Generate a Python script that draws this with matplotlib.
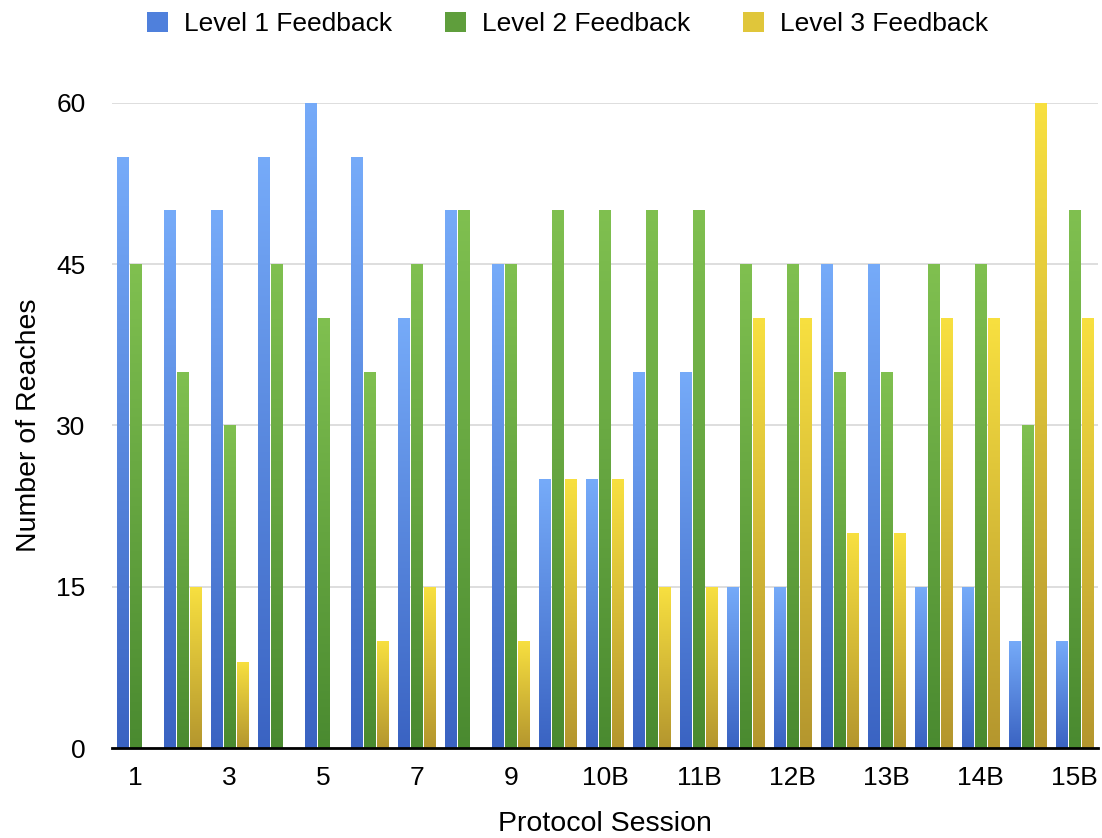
import numpy as np
import matplotlib.pyplot as plt
from matplotlib.colors import LinearSegmentedColormap

plt.rcParams['font.family'] = ['Liberation Sans', 'DejaVu Sans']

sessions = ['1', '2', '3', '4', '5', '6', '7', '8', '9',
            '10A', '10B', '11A', '11B', '12A', '12B',
            '13A', '13B', '14A', '14B', '15A', '15B']
level1 = [55, 50, 50, 55, 60, 55, 40, 50, 45, 25, 25, 35, 35, 15, 15, 45, 45, 15, 15, 10, 10]
level2 = [45, 35, 30, 45, 40, 35, 45, 50, 45, 50, 50, 50, 50, 45, 45, 35, 35, 45, 45, 30, 50]
level3 = [0, 15, 8, 0, 0, 10, 15, 0, 10, 25, 25, 15, 15, 40, 40, 20, 20, 40, 40, 60, 40]

series = [
    ('Level 1 Feedback', level1, '#3a63c2', '#76abf9', '#4f80dc'),
    ('Level 2 Feedback', level2, '#4a8a30', '#80c050', '#5f9e3c'),
    ('Level 3 Feedback', level3, '#b4962e', '#f8e040', '#e0c63a'),
]

fig = plt.figure(figsize=(11.02, 8.38), dpi=100)
ax = fig.add_axes([112 / 1102, 90 / 838, 986 / 1102, 645 / 838])

x = np.arange(len(sessions))
width = 0.245
offsets = [-0.277, 0, 0.277]
grad = np.linspace(1, 0, 256).reshape(-1, 1)

handles = []
for (name, vals, c_bot, c_top, c_mid), off in zip(series, offsets):
    cmap = LinearSegmentedColormap.from_list(name, [c_bot, c_top])
    bars = ax.bar(x + off, vals, width, color=c_mid, edgecolor='none', zorder=2)
    handles.append(plt.Rectangle((0, 0), 1, 1, facecolor=c_mid, edgecolor='none'))
    for b in bars:
        h = b.get_height()
        if h <= 0:
            continue
        x0 = b.get_x()
        im = ax.imshow(grad, cmap=cmap, aspect='auto', zorder=3,
                       extent=[x0, x0 + b.get_width(), 0, h], interpolation='bicubic')
        im.set_clip_path(b)

ax.set_xlim(-0.5, len(sessions) - 0.5)
ax.set_ylim(0, 60)
ax.set_yticks([0, 15, 30, 45, 60])
ax.set_xticks(x[::2])
ax.set_xticklabels(sessions[::2])
ax.yaxis.grid(True, color='#d8d8d8', linewidth=1.2, zorder=0)
ax.set_axisbelow(True)
for s in ['top', 'right', 'left']:
    ax.spines[s].set_visible(False)
ax.spines['bottom'].set_linewidth(2)
ax.spines['bottom'].set_color('black')
ax.spines['bottom'].set_zorder(5)
ax.tick_params(axis='both', length=0, labelsize=19)
ax.tick_params(axis='y', pad=19)
ax.tick_params(axis='x', pad=13)

ax.set_ylabel('Number of Reaches', fontsize=20.5, labelpad=10)
ax.set_xlabel('Protocol Session', fontsize=20.5, labelpad=15)

fig.legend(handles, [s[0] for s in series], loc='upper center',
           bbox_to_anchor=(0.515, 1.014), ncol=3, frameon=False, fontsize=19,
           handlelength=0.8, handleheight=0.8, handletextpad=0.6,
           columnspacing=2.0)

fig.savefig('out.png', dpi=100)
